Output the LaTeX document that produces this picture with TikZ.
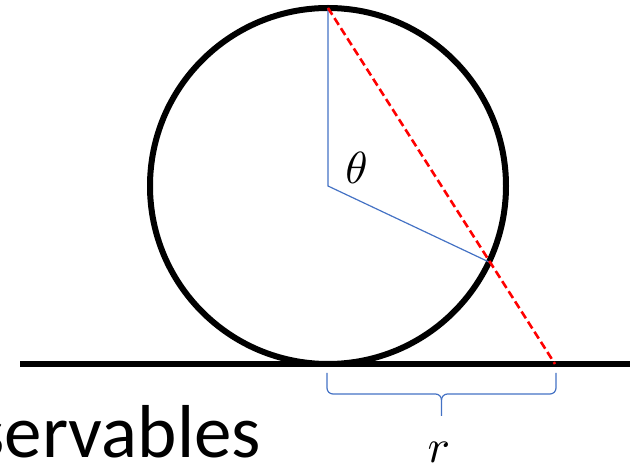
\documentclass[tikz,border=0pt]{standalone}
\usepackage{fontspec}
\newfontfamily\labelfont{Carlito}
\definecolor{accentblue}{HTML}{4472C4}
\definecolor{dashred}{HTML}{FF0000}
\tikzset{
  thick black/.style={line width=6pt, draw=black},
  radius line/.style={line width=1.2pt, draw=accentblue},
  chord/.style={line width=2.6pt, draw=dashred, dash pattern=on 8pt off 4pt},
  bracestyle/.style={line width=1.2pt, draw=accentblue},
}
\begin{document}
\begin{tikzpicture}[x=1pt,y=1pt]
\useasboundingbox (0,0) rectangle (630,469);
% key points (image y flipped: y = 469 - y_img)
\coordinate (O) at (328,283);
\coordinate (T) at (328,461);
\coordinate (P) at (489,207);
\coordinate (Q) at (555,105);
\coordinate (GL) at (20,104.5);
\coordinate (GR) at (632,104.5);
% ground
\draw[thick black] (GL) -- (GR);
% wheel
\node[circle, draw=black, line width=6pt, minimum size=356pt, inner sep=0pt] (wheel) at (O) {};
% radii
\draw[radius line] (T) -- (O) -- (P);
% chord
\draw[chord] (T) -- (Q);
% brace
\draw[bracestyle] (327,96) -- (327,81) arc(180:270:6) -- (435.5,75) arc(90:0:6) -- (441.5,53);
\draw[bracestyle] (556,96) -- (556,81) arc(0:-90:6) -- (447.5,75) arc(90:180:6);
% labels
\node[inner sep=0pt] (theta) at (356.5,301) {\scalebox{4.5}{$\theta$}};
\node[inner sep=0pt, anchor=base] (rlab) at (439,6) {\scalebox{4.7}{$r$}};
\node[inner sep=0pt, anchor=base east] (obs) at (261,11) {\labelfont\fontsize{75}{80}\selectfont servables};
\end{tikzpicture}
\end{document}
